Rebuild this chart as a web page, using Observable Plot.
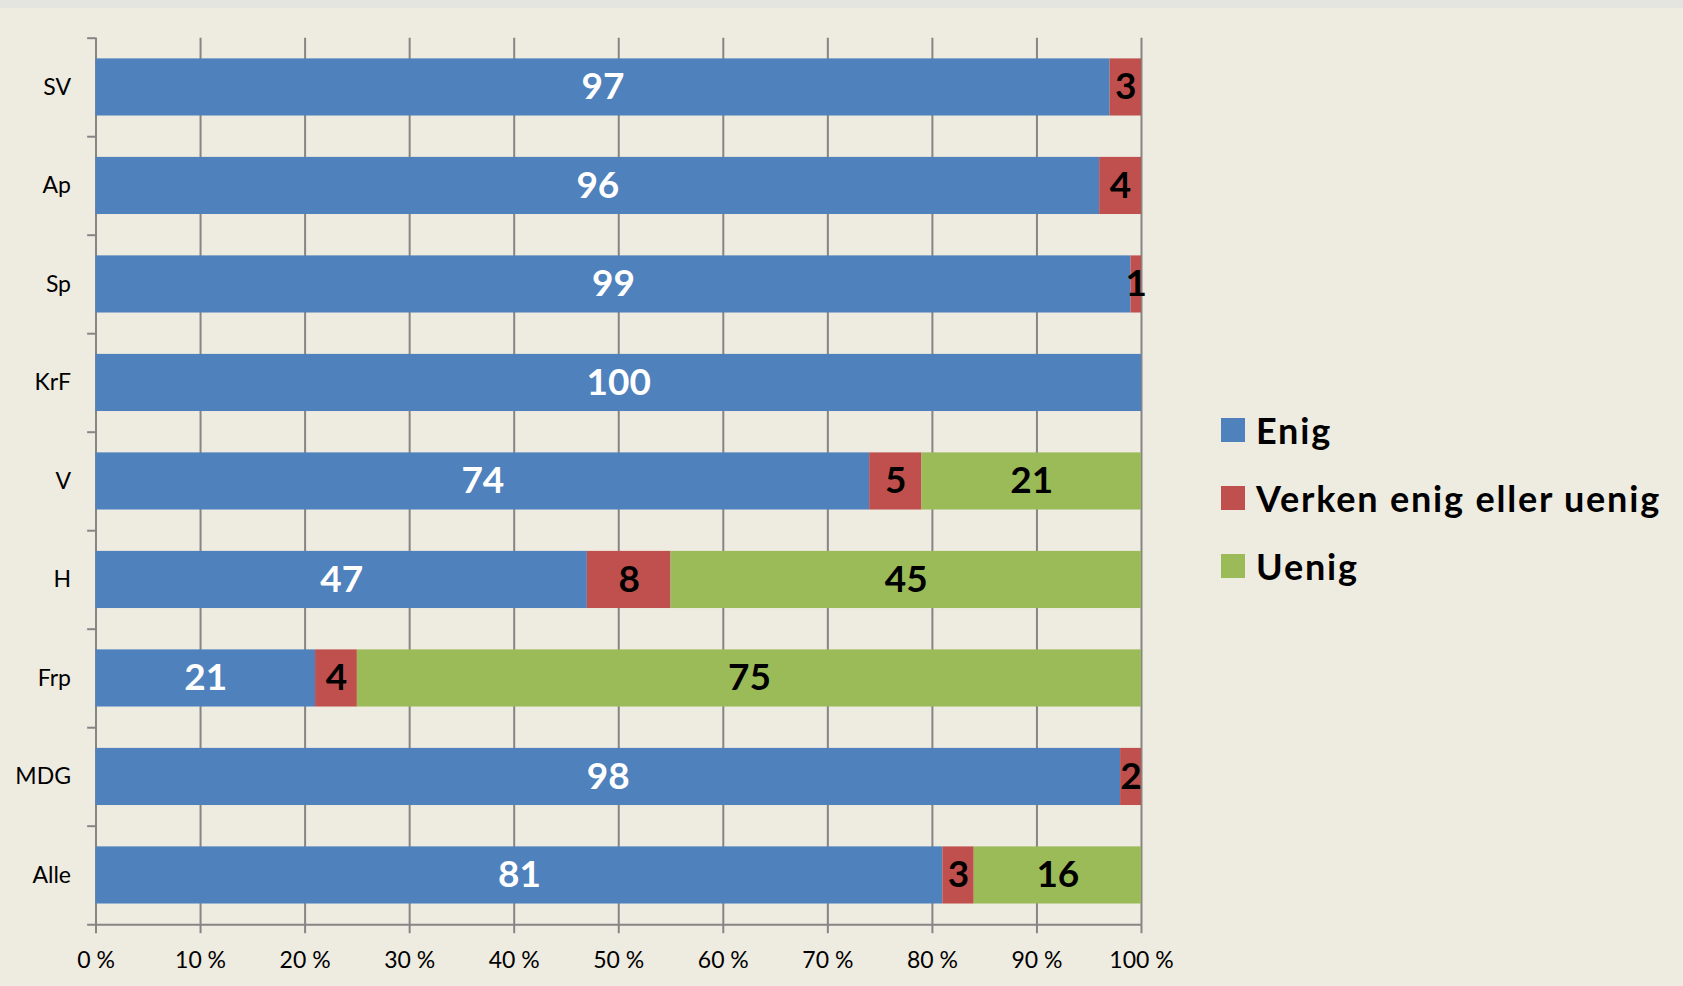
<!DOCTYPE html>
<html>
<head>
<meta charset="utf-8">
<script src="https://cdn.jsdelivr.net/npm/d3@7"></script>
<script src="https://cdn.jsdelivr.net/npm/@observablehq/plot@0.6"></script>
<style>
  html, body { margin: 0; padding: 0; background: #EEEBE0; }
  #wrap { position: relative; width: 1683px; height: 986px; background: #EEEBE0; overflow: hidden; }
  #topstrip { position: absolute; left: 0; top: 0; width: 1683px; height: 8px; background: #E4E4E1; }
  #legend { position: absolute; left: 1221px; top: 396px; font-family: Lato, "Open Sans", sans-serif; font-weight: bold; font-size: 36px; letter-spacing: 1.8px; color: #000; }
  .item { display: flex; align-items: center; height: 68px; }
  .sw { width: 24px; height: 24px; margin-right: 11px; flex: none; }
</style>
</head>
<body>
<div id="wrap">
  <div id="topstrip"></div>
  <div id="chart"></div>
  <div id="legend"></div>
</div>
<script>
const parties = ["SV", "Ap", "Sp", "KrF", "V", "H", "Frp", "MDG", "Alle"];
const enig   = [97, 96, 99, 100, 74, 47, 21, 98, 81];
const verken = [3, 4, 1, 0, 5, 8, 4, 2, 3];
const uenig  = [0, 0, 0, 0, 21, 45, 75, 0, 16];
const categories = ["Enig", "Verken enig eller uenig", "Uenig"];
const colors = ["#4F81BD", "#C0504D", "#9BBB59"];
const xTicks = [0, 10, 20, 30, 40, 50, 60, 70, 80, 90, 100];

const series = [enig, verken, uenig];
const rows = [];
parties.forEach((p, i) => {
  let acc = 0;
  series.forEach((s, j) => {
    const v = s[i];
    if (v > 0) rows.push({party: p, cat: categories[j], idx: j, value: v, x1: acc, x2: acc + v, mid: acc + v / 2});
    acc += v;
  });
});

const W = 1683, H = 986, mt = 37.7, mb = 61.8, ml = 95.5, mr = 542;
const step = (H - mt - mb) / parties.length;
const gray = "#858585";

const chart = Plot.plot({
  width: W, height: H,
  marginTop: mt, marginBottom: mb, marginLeft: ml, marginRight: mr,
  style: {background: "transparent", fontFamily: "Lato, 'Open Sans', sans-serif", color: "#000"},
  x: {domain: [0, 100], label: null},
  y: {domain: parties, paddingInner: 0.42, paddingOuter: 0.21, round: false, label: null},
  color: {domain: categories, range: colors},
  marks: [
    Plot.gridX(xTicks, {stroke: gray, strokeOpacity: 1, strokeWidth: 2}),
    Plot.axisX(xTicks, {tickSize: 9, tickPadding: 18, stroke: gray, strokeWidth: 2, fill: "#000", fontSize: 23, tickFormat: d => d + " %", label: null}),
    Plot.axisY({tickSize: 0, tickPadding: 25, fontSize: 23, fill: "#000", label: null}),
    Plot.ruleX([0], {stroke: gray, strokeWidth: 2}),
    Plot.ruleY(parties, {y: d => d, x1: -0.8, x2: 0, dy: -step / 2, stroke: gray, strokeWidth: 2}),
    Plot.ruleY([parties[parties.length - 1]], {y: d => d, x1: -0.8, x2: 100, dy: step / 2, stroke: gray, strokeWidth: 2}),
    Plot.barX(rows, {x1: "x1", x2: "x2", y: "party", fill: "cat"}),
    Plot.text(rows.filter(r => r.idx === 0), {x: "mid", y: "party", text: "value", fill: "white", fontWeight: "bold", fontSize: 37}),
    Plot.text(rows.filter(r => r.idx > 0), {x: "mid", y: "party", text: "value", fill: "black", fontWeight: "bold", fontSize: 37})
  ]
});
document.getElementById("chart").appendChild(chart);

const legend = document.getElementById("legend");
categories.forEach((c, i) => {
  const it = document.createElement("div");
  it.className = "item";
  const sw = document.createElement("div");
  sw.className = "sw";
  sw.style.background = colors[i];
  const tx = document.createElement("span");
  tx.textContent = c;
  it.appendChild(sw);
  it.appendChild(tx);
  legend.appendChild(it);
});
</script>
</body>
</html>
